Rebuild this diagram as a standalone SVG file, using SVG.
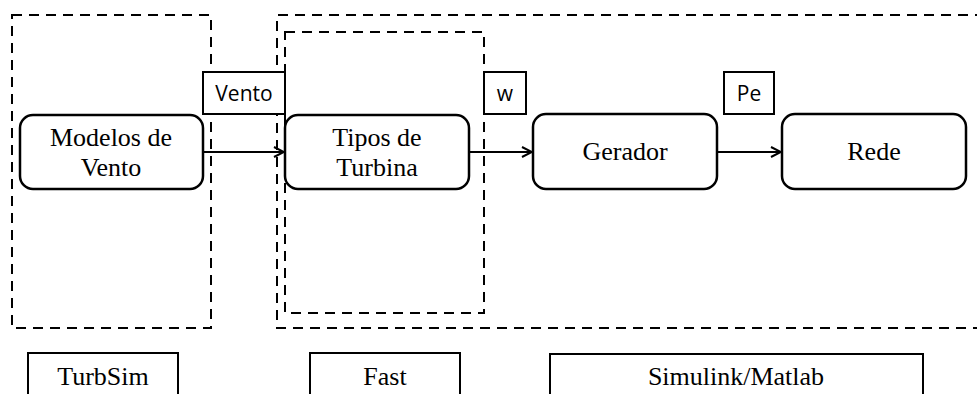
<svg xmlns="http://www.w3.org/2000/svg" width="977" height="394" viewBox="0 0 977 394">
<style>
.dash{fill:none;stroke:#000;stroke-width:2;stroke-dasharray:10 7}
.node rect{fill:#fff;stroke:#000;stroke-width:2.5}
.lbl rect{fill:#fff;stroke:#000;stroke-width:2}
.serif{font-family:"Liberation Serif","Times New Roman",serif;font-size:26px;text-anchor:middle;fill:#000}
.sans{font-family:"Open Sans","Liberation Sans",sans-serif;font-size:21px;text-anchor:middle;fill:#000}
.conn{stroke:#000;stroke-width:2;fill:none}
</style>
<defs>
<marker id="arr" viewBox="0 0 12 12" refX="11" refY="6" markerWidth="12" markerHeight="12" markerUnits="userSpaceOnUse" orient="auto">
<path d="M1,1 L11,6 L1,11" fill="none" stroke="#000" stroke-width="2"/>
</marker>
</defs>
<rect width="977" height="394" fill="#fff"/>
<g id="groups">
<rect class="dash" x="12" y="15" width="199" height="313"/>
<path class="dash" d="M985,15 H277 V328 H985"/>
<rect class="dash" x="285" y="32" width="199" height="281"/>
</g>
<g id="connectors">
<line class="conn" x1="203" y1="152" x2="284" y2="152" marker-end="url(#arr)"/>
<line class="conn" x1="469" y1="152" x2="532" y2="152" marker-end="url(#arr)"/>
<line class="conn" x1="717" y1="152" x2="781" y2="152" marker-end="url(#arr)"/>
</g>
<g id="label-vento" class="lbl"><rect x="203" y="72" width="82" height="42"/><text class="sans" x="244" y="101">Vento</text></g>
<g id="label-w" class="lbl"><rect x="484" y="72" width="42" height="42"/><text class="sans" x="505" y="101">w</text></g>
<g id="label-pe" class="lbl"><rect x="724" y="72" width="50" height="42"/><text class="sans" x="749" y="101">Pe</text></g>
<g id="modelos" class="node"><rect x="20" y="115" width="183" height="74" rx="13"/><text class="serif" x="111" y="146">Modelos de</text><text class="serif" x="111" y="176">Vento</text></g>
<g id="tipos" class="node"><rect x="285" y="115" width="184" height="74" rx="13"/><text class="serif" x="377" y="146">Tipos de</text><text class="serif" x="377" y="176">Turbina</text></g>
<g id="gerador" class="node"><rect x="533" y="114" width="184" height="75" rx="13"/><text class="serif" x="625" y="160">Gerador</text></g>
<g id="rede" class="node"><rect x="782" y="114" width="184" height="75" rx="13"/><text class="serif" x="874" y="160">Rede</text></g>
<g id="turbsim" class="lbl"><rect x="28" y="353" width="150" height="60"/><text class="serif" x="103" y="385">TurbSim</text></g>
<g id="fast" class="lbl"><rect x="310" y="353" width="150" height="60"/><text class="serif" x="385" y="385">Fast</text></g>
<g id="simulink" class="lbl"><rect x="550" y="354" width="373" height="60"/><text class="serif" x="736" y="385">Simulink/Matlab</text></g>
</svg>
